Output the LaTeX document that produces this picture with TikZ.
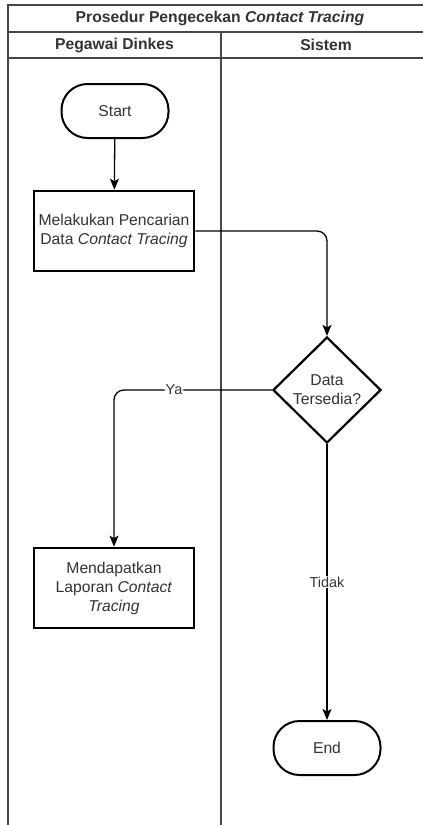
\documentclass[tikz,border=0pt]{standalone}
\usepackage{fontspec}
\setmainfont{Liberation Sans}
\usepackage{tikz}
\usetikzlibrary{positioning, arrows.meta, shapes.geometric}
\definecolor{LaneGray}{RGB}{70,70,70}
\definecolor{TextGray}{RGB}{51,51,51}
\newcommand{\flowfont}{\fontsize{15.7}{19}\selectfont}
\newcommand{\edgefont}{\fontsize{14.4}{17}\selectfont}

\begin{document}
\begin{tikzpicture}[x=1pt, y=-1pt,
    terminal/.style={draw, line width=2pt, rounded corners=26pt, minimum width=107pt, minimum height=54pt, text=TextGray, font=\flowfont},
    process/.style={draw, line width=2.6pt, minimum width=160pt, minimum height=80pt, inner sep=1pt, align=center, text=TextGray, font=\flowfont},
    decision/.style={draw, diamond, line width=2.2pt, minimum width=108pt, minimum height=106pt, inner sep=0pt, align=center, text=TextGray, font=\flowfont},
    flowline/.style={line width=1.3pt, -{Stealth[length=11pt, width=9pt, inset=2.5pt]}},
    lanetext/.style={font=\flowfont\bfseries, text=TextGray},
    edgelabel/.style={fill=white, inner sep=1pt, font=\edgefont, text=TextGray}]
  \useasboundingbox (0,0) rectangle (423,825);
  \clip (0,0) rectangle (423,825);
  \fill[white] (0,0) rectangle (423,825);
  \draw[LaneGray, line width=1.5pt] (8,840) -- (8,5) -- (440,5);
  \draw[LaneGray, line width=1.5pt] (8,32) -- (440,32);
  \draw[LaneGray, line width=1.5pt] (8,58) -- (440,58);
  \draw[LaneGray, line width=1.5pt] (221,32) -- (221,840);
  \node[lanetext] (judul) at (220,18.5) {Prosedur Pengecekan \textit{Contact Tracing}};
  \node[lanetext] (pegawai) at (114.5,45) {Pegawai Dinkes};
  \node[lanetext] (sistem) at (326,45) {Sistem};
  \node[terminal] (mulai) at (115,111) {Start};
  \node[process] (cari) at (114,231) {Melakukan Pencarian\\Data \textit{Contact Tracing}};
  \node[decision] (cek) at (327,390) {Data\\Tersedia?};
  \node[process] (laporan) at (114,588) {Mendapatkan\\Laporan \textit{Contact}\\\textit{Tracing}};
  \node[terminal] (selesai) at (327,748) {End};
  \draw[flowline] (mulai) -- (cari);
  \draw[flowline, rounded corners=10pt] (cari.east) -| (cek.north);
  \draw[flowline, rounded corners=10pt] (cek.west) -| node[edgelabel, pos=0.31] {Ya} (laporan.north);
  \draw[flowline] (cek.south) -- node[edgelabel] {Tidak} (selesai.north);
\end{tikzpicture}
\end{document}
